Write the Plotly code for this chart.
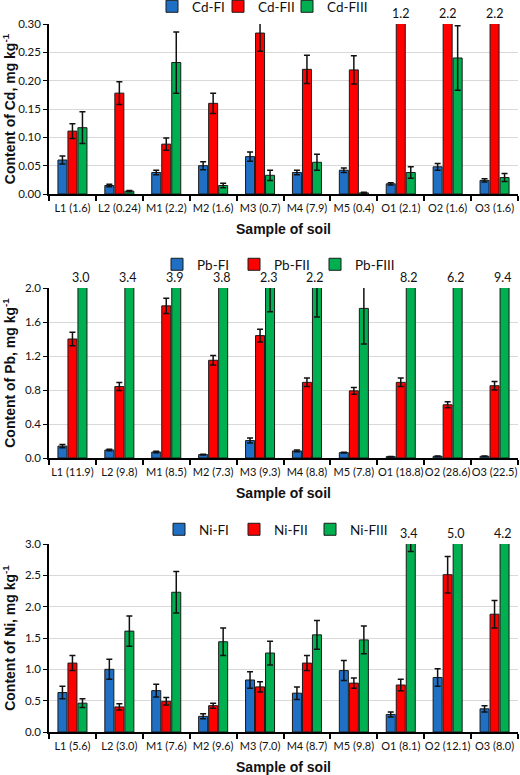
import plotly.graph_objects as go

samples_cd = ["L1 (1.6)", "L2 (0.24)", "M1 (2.2)", "M2 (1.6)", "M3 (0.7)", "M4 (7.9)", "M5 (0.4)", "O1 (2.1)", "O2 (1.6)", "O3 (1.6)"]
samples_pb = ["L1 (11.9)", "L2 (9.8)", "M1 (8.5)", "M2 (7.3)", "M3 (9.3)", "M4 (8.8)", "M5 (7.8)", "O1 (18.8)", "O2 (28.6)", "O3 (22.5)"]
samples_ni = ["L1 (5.6)", "L2 (3.0)", "M1 (7.6)", "M2 (9.6)", "M3 (7.0)", "M4 (8.7)", "M5 (9.8)", "O1 (8.1)", "O2 (12.1)", "O3 (8.0)"]

cd_f1 = [0.060, 0.015, 0.038, 0.050, 0.066, 0.038, 0.042, 0.018, 0.048, 0.024]
cd_f1_err = [0.007, 0.002, 0.004, 0.007, 0.008, 0.004, 0.004, 0.002, 0.006, 0.003]
cd_f2 = [0.111, 0.178, 0.088, 0.160, 0.284, 0.220, 0.219, 1.2, 2.2, 2.2]
cd_f2_err = [0.013, 0.020, 0.011, 0.018, 0.032, 0.025, 0.025, 0, 0, 0]
cd_f3 = [0.117, 0.005, 0.232, 0.015, 0.033, 0.056, 0.002, 0.038, 0.240, 0.029]
cd_f3_err = [0.028, 0.001, 0.054, 0.004, 0.009, 0.014, 0.001, 0.010, 0.057, 0.007]

pb_f1 = [0.14, 0.094, 0.07, 0.04, 0.205, 0.083, 0.063, 0.016, 0.02, 0.02]
pb_f1_err = [0.02, 0.01, 0.008, 0.005, 0.03, 0.01, 0.005, 0.003, 0.003, 0.003]
pb_f2 = [1.40, 0.84, 1.79, 1.15, 1.44, 0.89, 0.79, 0.89, 0.626, 0.85]
pb_f2_err = [0.08, 0.047, 0.09, 0.055, 0.075, 0.05, 0.04, 0.05, 0.035, 0.05]
pb_f3 = [3.0, 3.4, 3.9, 3.8, 2.3, 2.2, 1.76, 8.2, 6.2, 9.4]
pb_f3_err = [0, 0, 0, 0, 0.58, 0.54, 0.42, 0, 0, 0]
pb_f3_label = ["3.0", "3.4", "3.9", "3.8", "2.3", "2.2", "1.8", "8.2", "6.2", "9.4"]

ni_f1 = [0.63, 1.00, 0.66, 0.25, 0.83, 0.62, 0.98, 0.28, 0.87, 0.37]
ni_f1_err = [0.10, 0.16, 0.10, 0.04, 0.13, 0.10, 0.16, 0.04, 0.14, 0.05]
ni_f2 = [1.10, 0.40, 0.49, 0.42, 0.72, 1.10, 0.78, 0.75, 2.51, 1.88]
ni_f2_err = [0.12, 0.05, 0.06, 0.04, 0.08, 0.12, 0.08, 0.09, 0.29, 0.22]
ni_f3 = [0.46, 1.61, 2.23, 1.44, 1.26, 1.55, 1.47, 3.4, 5.0, 4.2]
ni_f3_err = [0.07, 0.24, 0.33, 0.22, 0.19, 0.23, 0.22, 0.52, 0, 0]

BLUE = "#1F6FC5"
RED = "#FF0000"
GREEN = "#00B050"
FONT = "Lato"

# the figure starts TOP px above the window so the top legend can sit at the very edge
TOP = 12
W, H = 520, 775 + TOP

def py(px):
    return 1 - (px + TOP) / H

def pxx(px):
    return px / W

panels = [
    dict(el="Cd", cats=samples_cd, series=[(cd_f1, cd_f1_err), (cd_f2, cd_f2_err), (cd_f3, cd_f3_err)],
         top=24, bot=194, rng=[0, 0.30], dtick=0.05, fmt=".2f", legsq=[171, 237, 306], legtxt=6),
    dict(el="Pb", cats=samples_pb, series=[(pb_f1, pb_f1_err), (pb_f2, pb_f2_err), (pb_f3, pb_f3_err)],
         top=288, bot=458, rng=[0, 2.0], dtick=0.4, fmt=".1f", legsq=[176, 253, 334], legtxt=264),
    dict(el="Ni", cats=samples_ni, series=[(ni_f1, ni_f1_err), (ni_f2, ni_f2_err), (ni_f3, ni_f3_err)],
         top=544, bot=732, rng=[0, 3.0], dtick=0.5, fmt=".1f", legsq=[178, 253, 329], legtxt=529),
]

fig = go.Figure()
colors = [BLUE, RED, GREEN]
names = ["FI", "FII", "FIII"]
layout = {}
leg_idx = 0
for i, p in enumerate(panels):
    sfx = "" if i == 0 else str(i + 1)
    for k, ((vals, errs), col, nm) in enumerate(zip(p["series"], colors, names)):
        leg_idx += 1
        leg = "legend" if leg_idx == 1 else f"legend{leg_idx}"
        fig.add_trace(go.Bar(
            x=p["cats"], y=vals, name=f'{p["el"]}-{nm}',
            marker=dict(color=col, line=dict(color="#1a1a1a", width=1)),
            error_y=dict(type="data", array=errs, visible=True, color="#111111", thickness=1.5, width=3),
            xaxis="x" + sfx, yaxis="y" + sfx, legend=leg, showlegend=True,
        ))
        layout[leg] = dict(
            orientation="h", x=pxx(p["legsq"][k] - 19), y=py(p["legtxt"] - 15), xanchor="left", yanchor="top",
            font=dict(family=FONT, size=13.5, color="#111"), itemwidth=30, bgcolor="rgba(0,0,0,0)",
        )
    layout["xaxis" + sfx] = dict(
        domain=[pxx(49), pxx(518)], anchor="y" + sfx, type="category", automargin=False,
        showline=True, linecolor="black", linewidth=1.5, tickangle=0,
        ticks="outside", tickson="boundaries", ticklen=5, tickcolor="black", tickwidth=1.5,
        ticklabelstandoff=3,
        tickfont=dict(family=FONT, size=11, color="#111"),
        title=dict(text="<b>Sample of soil</b>", font=dict(family="Liberation Sans", size=14, color="#111"), standoff=11),
    )
    layout["yaxis" + sfx] = dict(
        domain=[py(p["bot"]), py(p["top"])], anchor="x" + sfx, range=p["rng"], dtick=p["dtick"],
        tickformat=p["fmt"], showline=True, linecolor="black", linewidth=1.5, automargin=False,
        ticks="outside", ticklen=4, tickcolor="black",
        showgrid=True, gridcolor="#d9d9d9", gridwidth=1, zeroline=False,
        tickfont=dict(family=FONT, size=11.5, color="#111"),
        title=dict(text=f'<b>Content of {p["el"]}, mg kg<sup>-1</sup></b>',
                   font=dict(family="Liberation Sans", size=14, color="#111"), standoff=6),
    )

annotations = []
# labels for bars that run past the top of the axis
for c, v in zip(samples_cd, cd_f2):
    if v > 0.30:
        annotations.append(dict(x=c, y=1, xref="x", yref="y domain", text=f"{v:.1f}", showarrow=False,
                                yanchor="bottom", yshift=1, font=dict(family=FONT, size=12.5, color="#111")))
for c, v, lab in zip(samples_pb, pb_f3, pb_f3_label):
    if v > 2.0 or lab != f"{v:.1f}":
        annotations.append(dict(x=c, y=1, xref="x2", yref="y2 domain", text=lab, showarrow=False, xshift=8,
                                yanchor="bottom", yshift=1, font=dict(family=FONT, size=12.5, color="#111")))
for c, v in zip(samples_ni, ni_f3):
    if v > 3.0:
        annotations.append(dict(x=c, y=1, xref="x3", yref="y3 domain", text=f"{v:.1f}", showarrow=False, xshift=8,
                                yanchor="bottom", yshift=1, font=dict(family=FONT, size=12.5, color="#111")))

fig.update_layout(
    width=W, height=H, margin=dict(l=0, r=0, t=0, b=0),
    paper_bgcolor="white", plot_bgcolor="white",
    barmode="group", bargap=0.36, bargroupgap=0.1, showlegend=True,
    annotations=annotations,
    **layout,
)
fig.write_html(
    "out.html",
    config={"displayModeBar": False},
    post_script=f"document.body.style.margin='0px'; document.body.style.marginTop='-{TOP}px'; document.body.style.overflow='hidden';",
)
